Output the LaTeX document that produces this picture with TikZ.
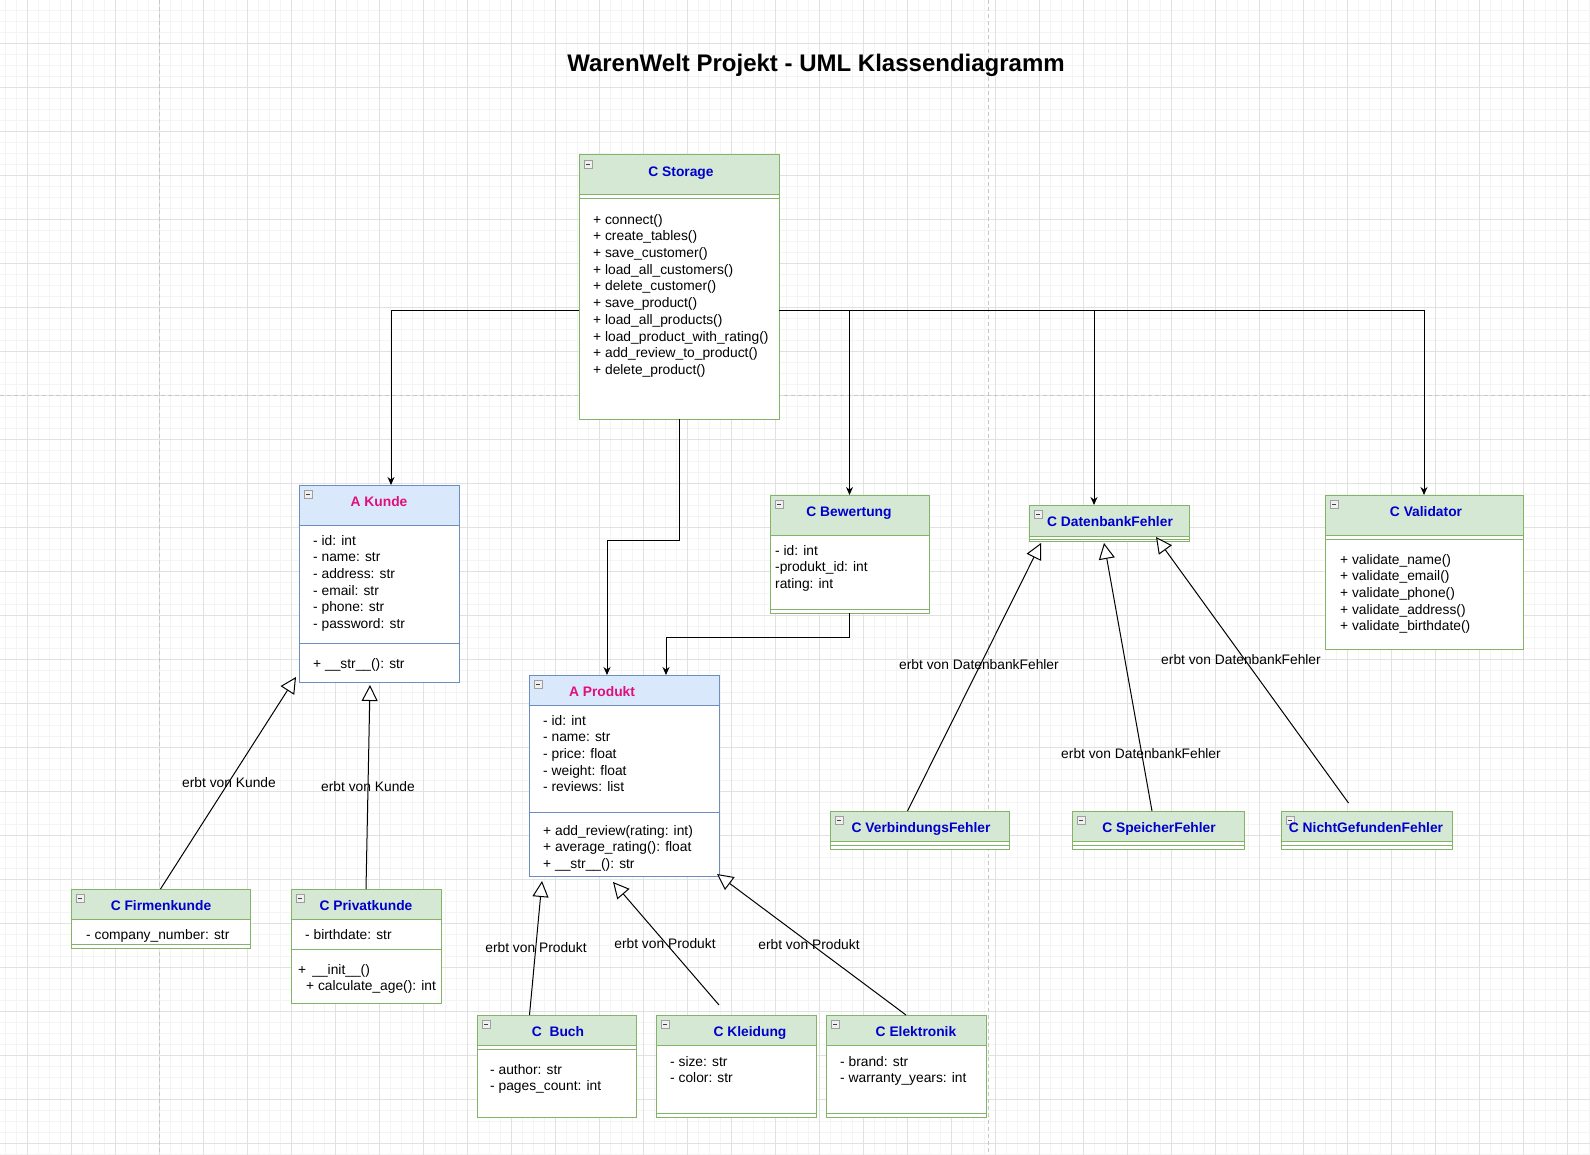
\documentclass[tikz,border=0pt]{standalone}
\usepackage{fontspec}
\setmainfont{Liberation Sans}
\usetikzlibrary{arrows.meta,calc}
\definecolor{gfill}{HTML}{D5E8D4}
\definecolor{gstroke}{HTML}{82B366}
\definecolor{bfill}{HTML}{DAE8FC}
\definecolor{bstroke}{HTML}{6C8EBF}
\definecolor{cblue}{HTML}{0000CC}
\definecolor{cpink}{HTML}{E0107A}
\definecolor{gminor}{HTML}{F4F4F4}
\definecolor{gmajor}{HTML}{E1E1E1}
\newcommand{\umlclass}[8]{%
  \node[classbox, draw=#8, minimum width=#4pt, minimum height=#5pt] (#1) at (#2,#3) {};
  \fill[#7] (#1.north west) rectangle ($(#1.north east)+(0,#6)$);
  \draw[#8, line width=1pt] (#1.north west) rectangle (#1.south east);
  \draw[#8, line width=1pt] ($(#1.north west)+(0,#6)$) -- ($(#1.north east)+(0,#6)$);
  \draw[gray!75, fill=gray!12, line width=0.6pt] ($(#1.north west)+(5,5)$) rectangle ($(#1.north west)+(13,13)$);
  \draw[black!75, line width=0.7pt] ($(#1.north west)+(7,9)$) -- ($(#1.north west)+(11,9)$);
}
\newcommand{\sepl}[3]{\draw[#3, line width=1pt] ($(#1.north west)+(0,#2)$) -- ($(#1.north east)+(0,#2)$);}
\newcommand{\txtlines}[5]{%
  \foreach \t [count=\i from 0] in {#5} \node[txt] (#1\i) at (#2,{#3+\i*#4}) {\t};}
\begin{document}
\begin{tikzpicture}[x=1pt,y=-1pt,
  classbox/.style={draw, fill=white, line width=1pt, inner sep=0pt, outer sep=0pt, anchor=north west},
  txt/.style={anchor=mid west, inner sep=0pt, yshift=-2.5pt, font=\fontsize{13.8}{16}\selectfont},
  ttl/.style={anchor=mid, inner sep=0pt, yshift=-2.5pt, font=\fontsize{13.8}{16}\selectfont\bfseries},
  lbl/.style={anchor=mid, inner sep=0pt, yshift=-2.5pt, font=\fontsize{13.8}{16}\selectfont},
  assoc/.style={-{Stealth[length=8pt,width=7pt]}, line width=1pt},
  inherit/.style={-{Triangle[open,fill=white,length=16pt,width=16pt]}, line width=1pt},
  gridminor/.style={gminor, line width=0.8pt},
  gridmajor/.style={gmajor, line width=0.9pt},
  pagebreak/.style={gray!45, line width=0.9pt, dash pattern=on 4pt off 3pt}]
\useasboundingbox (0,0) rectangle (1590,1155);
\fill[white] (0,0) rectangle (1590,1155);
% grid
\foreach \i in {0,...,144} \draw[gridminor] ({5.3+11*\i},0) -- ({5.3+11*\i},1155);
\foreach \j in {0,...,104} \draw[gridminor] (0,{10.3+11*\j}) -- (1590,{10.3+11*\j});
\foreach \i in {0,...,35} \draw[gridmajor] ({27.3+44*\i},0) -- ({27.3+44*\i},1155);
\foreach \j in {0,...,25} \draw[gridmajor] (0,{43.3+44*\j}) -- (1590,{43.3+44*\j});
\draw[pagebreak] (159,0) -- (159,1155);
\draw[pagebreak] (988,0) -- (988,1155);
\draw[pagebreak] (0,395) -- (1590,395);

% title
\node[anchor=mid, inner sep=0pt, font=\fontsize{24}{28}\selectfont\bfseries] (title) at (816,69) {WarenWelt Projekt - UML Klassendiagramm};

% classes
\umlclass{storage}{579}{155}{200}{264}{40}{gfill}{gstroke}
\sepl{storage}{44}{gstroke}
\node[ttl, text=cblue] (storageT) at (681,171) {C Storage};
\txtlines{st}{593}{219}{16.7}{+ connect(), + create\_tables(), + save\_customer(), + load\_all\_customers(), + delete\_customer(), + save\_product(), + load\_all\_products(), + load\_product\_with\_rating(), + add\_review\_to\_product(), + delete\_product()}

\umlclass{kunde}{299}{485}{160}{197}{40}{bfill}{bstroke}
\sepl{kunde}{158}{bstroke}
\node[ttl, text=cpink] (kundeT) at (379,501) {A Kunde};
\txtlines{ku}{313}{540}{16.7}{- id: int, - name: str, - address: str, - email: str, - phone: str, - password: str}
\node[txt] (kuM) at (313,663) {+ \_\_str\_\_(): str};

\umlclass{produkt}{529}{675}{190}{201}{30}{bfill}{bstroke}
\sepl{produkt}{137}{bstroke}
\node[ttl, text=cpink] (produktT) at (602,691) {A Produkt};
\txtlines{pa}{543}{720}{16.7}{- id: int, - name: str, - price: float, - weight: float, - reviews: list}
\txtlines{pm}{543}{830}{16.7}{+ add\_review(rating: int), + average\_rating(): float, + \_\_str\_\_(): str}

\umlclass{bewertung}{770}{495}{159}{118}{40}{gfill}{gstroke}
\sepl{bewertung}{114}{gstroke}
\node[ttl, text=cblue] (bewertungT) at (849,511) {C Bewertung};
\txtlines{bw}{775}{550}{16.7}{- id: int, -produkt\_id: int, rating: int}

\umlclass{dbfehler}{1029}{505}{160}{36}{31}{gfill}{gstroke}
\sepl{dbfehler}{34}{gstroke}
\node[ttl, text=cblue] (dbfehlerT) at (1110,521) {C DatenbankFehler};

\umlclass{validator}{1325}{495}{198}{154}{40}{gfill}{gstroke}
\sepl{validator}{44}{gstroke}
\node[ttl, text=cblue] (validatorT) at (1426,511) {C Validator};
\txtlines{va}{1340}{559}{16.7}{+ validate\_name(), + validate\_email(), + validate\_phone(), + validate\_address(), + validate\_birthdate()}

\umlclass{firmen}{71}{889}{179}{59}{30}{gfill}{gstroke}
\sepl{firmen}{55}{gstroke}
\node[ttl, text=cblue] (firmenT) at (161,905) {C Firmenkunde};
\node[txt] (fiA) at (86,934) {- company\_number: str};

\umlclass{privat}{291}{889}{150}{114}{30}{gfill}{gstroke}
\sepl{privat}{60}{gstroke}
\node[ttl, text=cblue] (privatT) at (366,905) {C Privatkunde};
\node[txt] (prA) at (305,934) {- birthdate: str};
\node[txt] (prM1) at (298,969) {+ \,\_\_init\_\_()};
\node[txt] (prM2) at (306,985) {+ calculate\_age(): int};

\umlclass{buch}{477}{1015}{159}{102}{30}{gfill}{gstroke}
\sepl{buch}{34}{gstroke}
\node[ttl, text=cblue] (buchT) at (558,1031) {C\ \ Buch};
\txtlines{bu}{490}{1069}{16.7}{- author: str, - pages\_count: int}

\umlclass{kleidung}{656}{1015}{160}{102}{30}{gfill}{gstroke}
\sepl{kleidung}{98}{gstroke}
\node[ttl, text=cblue] (kleidungT) at (750,1031) {C Kleidung};
\txtlines{kl}{670}{1061}{16.7}{- size: str, - color: str}

\umlclass{elektronik}{826}{1015}{160}{102}{30}{gfill}{gstroke}
\sepl{elektronik}{98}{gstroke}
\node[ttl, text=cblue] (elektronikT) at (916,1031) {C Elektronik};
\txtlines{el}{840}{1061}{16.7}{- brand: str, - warranty\_years: int}

\umlclass{verbindung}{830}{811}{179}{38}{30}{gfill}{gstroke}
\sepl{verbindung}{34}{gstroke}
\node[ttl, text=cblue] (verbindungT) at (921,827) {C VerbindungsFehler};

\umlclass{speicher}{1072}{811}{172}{38}{30}{gfill}{gstroke}
\sepl{speicher}{34}{gstroke}
\node[ttl, text=cblue] (speicherT) at (1159,827) {C SpeicherFehler};

\umlclass{nicht}{1281}{811}{171}{38}{30}{gfill}{gstroke}
\sepl{nicht}{34}{gstroke}
\node[ttl, text=cblue] (nichtT) at (1366,827) {C NichtGefundenFehler};

% associations from Storage
\coordinate (bus) at (0,311);
\draw[assoc] (storage.west |- bus) -| ($(kunde.north)+(12,0)$);
\draw[assoc] (storage.east |- bus) -| (bewertung.north);
\draw[assoc] (storage.east |- bus) -| ($(dbfehler.north)+(-15,0)$);
\draw[assoc] (storage.east |- bus) -| (validator.north);
\coordinate (spbend) at (0,540);
\draw[assoc] (storage.south) -- (storage.south |- spbend) -| ($(produkt.north)+(-17,0)$);
\coordinate (bpbend) at (0,637);
\draw[assoc] (bewertung.south) -- (bewertung.south |- bpbend) -| ($(produkt.north)+(42,0)$);

% inheritance
\draw[inherit] (firmen.north) -- ($(kunde.south west)+(-3,-5)$);
\draw[inherit] (privat.north) -- ($(kunde.south)+(-9,3)$);
\draw[inherit] ($(buch.north)+(-27,0)$) -- ($(produkt.south west)+(13,5)$);
\draw[inherit] ($(kleidung.north)+(-17,-10)$) -- ($(produkt.south)+(-11,6)$);
\draw[inherit] (elektronik.north) -- ($(produkt.south east)+(-2,-2)$);
\draw[inherit] ($(verbindung.north)+(-12,0)$) -- ($(dbfehler.south west)+(12,2)$);
\draw[inherit] ($(speicher.north)+(-6,0)$) -- ($(dbfehler.south)+(-5,2)$);
\draw[inherit] ($(nicht.north)+(-18,-8)$) -- ($(dbfehler.south)+(47,-4)$);

% labels
\node[lbl] (l1) at (229,782) {erbt von Kunde};
\node[lbl] (l2) at (368,786) {erbt von Kunde};
\node[lbl] (l3) at (536,947) {erbt von Produkt};
\node[lbl] (l4) at (665,943) {erbt von Produkt};
\node[lbl] (l5) at (809,944) {erbt von Produkt};
\node[lbl] (l6) at (979,664) {erbt von DatenbankFehler};
\node[lbl] (l7) at (1141,753) {erbt von DatenbankFehler};
\node[lbl] (l8) at (1241,659) {erbt von DatenbankFehler};
\end{tikzpicture}
\end{document}
